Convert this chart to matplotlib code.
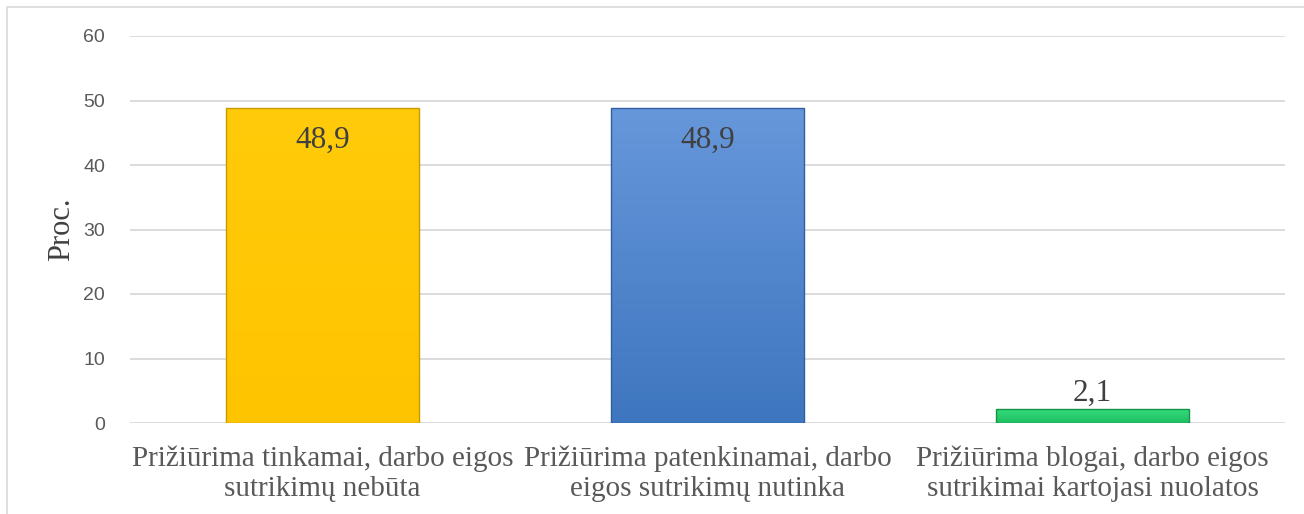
import matplotlib
matplotlib.use("Agg")
from matplotlib import pyplot as plt
from matplotlib.patches import Rectangle
import numpy as np

categories = ["Prižiūrima tinkamai, darbo eigos\nsutrikimų nebūta",
              "Prižiūrima patenkinamai, darbo\neigos sutrikimų nutinka",
              "Prižiūrima blogai, darbo eigos\nsutrikimai kartojasi nuolatos"]
values = [48.9, 48.9, 2.1]
value_labels = ["48,9", "48,9", "2,1"]
y_ticks = [0, 10, 20, 30, 40, 50, 60]

# top / bottom colours of each bar gradient
bar_top = ["#FFCB0A", "#6797DB", "#34DA7A"]
bar_bottom = ["#FFC400", "#3E76BF", "#1FBF62"]
bar_edge = ["#C79A00", "#2F5F9E", "#14924A"]

fig = plt.figure(figsize=(13.04, 5.14), dpi=100)
fig.patches.append(Rectangle((7 / 1304, -0.1), 1.2, (514 - 7) / 514 + 0.1,
                             transform=fig.transFigure, fill=False,
                             edgecolor="#d9d9d9", linewidth=1.2))
ax = fig.add_axes([130 / 1304, 91 / 514, 1155 / 1304, 387 / 514])

x = np.arange(len(categories))
bars = ax.bar(x, values, width=0.5, color="none", edgecolor=bar_edge,
              linewidth=1.0, zorder=3)
for i, b in enumerate(bars):
    c1 = np.array(matplotlib.colors.to_rgb(bar_top[i]))
    c2 = np.array(matplotlib.colors.to_rgb(bar_bottom[i]))
    t = np.linspace(0, 1, 100)[:, None]
    grad = (c1 * (1 - t) + c2 * t)[:, None, :]
    im = ax.imshow(grad, extent=[b.get_x(), b.get_x() + b.get_width(), 0, b.get_height()],
                   aspect="auto", zorder=2, origin="upper")
    im.set_clip_path(b)

for i, v in enumerate(values):
    if v > 10:
        ax.text(x[i], v - 5.0, value_labels[i], ha="center", va="center",
                fontsize=22.5, family="Liberation Serif", color="#404040", zorder=4)
    else:
        ax.text(x[i], v + 0.2, value_labels[i], ha="center", va="bottom",
                fontsize=22.5, family="Liberation Serif", color="#404040", zorder=4)

ax.set_xlim(-0.5, 2.5)
ax.set_ylim(0, 60)
ax.set_yticks(y_ticks)
ax.set_xticks(x)
ax.set_xticklabels(categories, fontsize=21, family="Liberation Serif",
                   color="#595959", linespacing=1.2)
ax.tick_params(axis="y", length=0, pad=18, labelsize=14, labelcolor="#595959")
ax.tick_params(axis="x", length=0, pad=16)
for lbl in ax.get_yticklabels():
    lbl.set_family("Liberation Sans")
ax.grid(axis="y", color="#d9d9d9", linewidth=1.3, zorder=0)
ax.set_axisbelow(True)
for s in ax.spines.values():
    s.set_visible(False)
ax.set_ylabel("Proc.", fontsize=22, family="Liberation Serif", color="#404040", labelpad=5)

plt.savefig("out.png", dpi=100)
